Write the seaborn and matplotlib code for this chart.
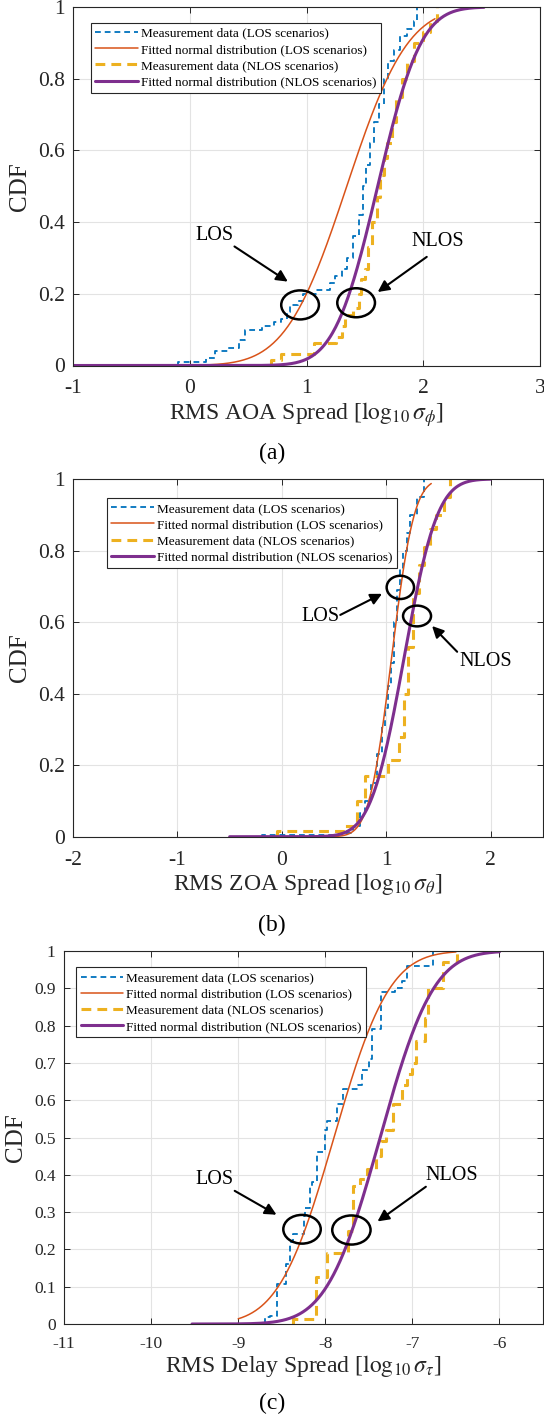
import math
import numpy as np
import pandas as pd
import matplotlib
matplotlib.use("Agg")
import matplotlib.pyplot as plt
import seaborn as sns
from matplotlib.patches import Ellipse
from matplotlib.ticker import FuncFormatter, MultipleLocator

# ---------------- data ----------------
# (a) RMS azimuth-of-arrival spread, log10(deg): empirical CDF step points
aoa_los_x = [-0.10, 0.14, 0.22, 0.33, 0.42, 0.47, 0.62, 0.72, 0.78, 0.83, 0.86, 0.93, 0.97,
             1.08, 1.20, 1.24, 1.30, 1.35, 1.40, 1.45, 1.48, 1.51, 1.54, 1.58, 1.62, 1.66,
             1.70, 1.75, 1.80, 1.86, 1.92, 1.95]
aoa_los_cdf = [0.01, 0.02, 0.04, 0.05, 0.07, 0.10, 0.11, 0.12, 0.13, 0.15, 0.17, 0.18, 0.20,
               0.21, 0.23, 0.25, 0.27, 0.30, 0.36, 0.42, 0.50, 0.56, 0.62, 0.68, 0.73, 0.80,
               0.85, 0.88, 0.92, 0.94, 0.96, 1.00]
aoa_nlos_x = [0.70, 0.78, 1.06, 1.25, 1.30, 1.33, 1.40, 1.45, 1.47, 1.50, 1.53, 1.56, 1.60,
              1.63, 1.66, 1.69, 1.73, 1.77, 1.82, 1.86, 1.92, 2.00, 2.06, 2.12]
aoa_nlos_cdf = [0.016, 0.033, 0.063, 0.08, 0.11, 0.14, 0.16, 0.20, 0.24, 0.27, 0.33, 0.40, 0.47,
                0.53, 0.58, 0.62, 0.68, 0.75, 0.80, 0.85, 0.90, 0.93, 0.96, 1.00]
aoa_los_fit = (1.345, 0.41)      # mean, std of fitted normal
aoa_los_fit_span = (-1.0, 2.1)
aoa_nlos_fit = (1.61, 0.29)
aoa_nlos_fit_span = (-1.0, 2.52)

# (b) RMS zenith-of-arrival spread, log10(deg)
zoa_los_x = [-0.19, 0.55, 0.68, 0.75, 0.80, 0.85, 0.91, 0.96, 0.99, 1.02, 1.04, 1.07, 1.10,
             1.13, 1.16, 1.20, 1.23, 1.29, 1.36]
zoa_los_cdf = [0.005, 0.01, 0.03, 0.065, 0.10, 0.15, 0.23, 0.31, 0.36, 0.42, 0.485, 0.60, 0.69,
               0.75, 0.80, 0.85, 0.90, 0.95, 1.00]
zoa_nlos_x = [-0.05, 0.60, 0.72, 0.80, 1.02, 1.12, 1.17, 1.21, 1.26, 1.31, 1.36, 1.42, 1.48,
              1.55, 1.61]
zoa_nlos_cdf = [0.015, 0.03, 0.10, 0.17, 0.215, 0.28, 0.40, 0.53, 0.68, 0.76, 0.81, 0.86, 0.90,
                0.95, 1.00]
zoa_los_fit = (1.05, 0.17)
zoa_los_fit_span = (0.5, 1.43)
zoa_nlos_fit = (1.17, 0.25)
zoa_nlos_fit_span = (-0.5, 2.0)

# (c) RMS delay spread, log10(s)
ds_los_x = [-8.69, -8.63, -8.55, -8.45, -8.41, -8.37, -8.25, -8.23, -8.17, -8.15, -8.09, -8.00,
            -7.98, -7.86, -7.80, -7.62, -7.58, -7.50, -7.46, -7.36, -7.20, -7.12, -7.06, -6.76]
ds_los_cdf = [0.018, 0.022, 0.107, 0.16, 0.22, 0.24, 0.29, 0.31, 0.37, 0.38, 0.46, 0.52,
              0.545, 0.59, 0.63, 0.64, 0.68, 0.71, 0.79, 0.89, 0.90, 0.92, 0.96, 1.00]
ds_nlos_x = [-8.37, -8.11, -7.98, -7.74, -7.68, -7.60, -7.52, -7.42, -7.36, -7.30, -7.22,
             -7.12, -7.06, -7.00, -6.96, -6.86, -6.82, -6.65, -6.49]
ds_nlos_cdf = [0.013, 0.125, 0.19, 0.25, 0.37, 0.39, 0.415, 0.45, 0.49, 0.52, 0.59, 0.64, 0.67,
               0.70, 0.76, 0.82, 0.90, 0.97, 1.00]
ds_los_fit = (-7.9, 0.50)
ds_los_fit_span = (-9.0, -6.5)
ds_nlos_fit = (-7.37, 0.48)
ds_nlos_fit_span = (-9.53, -6.0)

legend_labels = ["Measurement data (LOS scenarios)",
                 "Fitted normal distribution (LOS scenarios)",
                 "Measurement data (NLOS scenarios)",
                 "Fitted normal distribution (NLOS scenarios)"]
x_labels = [r"RMS AOA Spread [$\log_{10}\sigma_\phi$]",
            r"RMS ZOA Spread [$\log_{10}\sigma_\theta$]",
            r"RMS Delay Spread [$\log_{10}\sigma_\tau$]"]
captions = ["(a)", "(b)", "(c)"]

# ---------------- style ----------------
sns.set_theme(style="ticks")
plt.rcParams["font.family"] = ["Liberation Serif", "DejaVu Serif"]
plt.rcParams["mathtext.fontset"] = "stix"
plt.rcParams["axes.unicode_minus"] = False

INK = "#262626"
BLUE, ORANGE, YELLOW, PURPLE = "#0072BD", "#D95319", "#EDB120", "#7E2F8E"

erf = np.vectorize(math.erf)


def draw_steps(ax, xs, cdf, color, lw, dash, label):
    df = pd.DataFrame({"x": np.r_[xs[0], xs], "cdf": np.r_[0.0, cdf]})
    sns.lineplot(data=df, x="x", y="cdf", ax=ax, color=color, linewidth=lw,
                 linestyle=(0, dash), drawstyle="steps-post",
                 estimator=None, sort=False, label=label, legend=False)


def draw_fit(ax, params, span, color, lw, label):
    mu, sd = params
    x = np.linspace(span[0], span[1], 400)
    y = 0.5 * (1.0 + erf((x - mu) / (sd * math.sqrt(2.0))))
    sns.lineplot(x=x, y=y, ax=ax, color=color, linewidth=lw,
                 estimator=None, sort=False, label=label, legend=False)


def mark(ax, centre, size, text_pos, tail, head, text):
    ax.add_patch(Ellipse(centre, size[0], size[1], fill=False, lw=1.8,
                         edgecolor="black", zorder=6))
    ax.text(*text_pos, text, ha="center", va="center", fontsize=14.5, color="black", zorder=6)
    ax.annotate("", xy=head, xytext=tail,
                arrowprops=dict(arrowstyle="-|>", color="black", lw=1.5,
                                mutation_scale=17, shrinkA=0, shrinkB=0), zorder=6)


fig = plt.figure(figsize=(5.44, 14.16), dpi=100)
W, H = 544.0, 1416.0


def axes_px(left, top, right, bottom):
    return fig.add_axes([left / W, 1 - bottom / H, (right - left) / W, (bottom - top) / H])


ax_a = axes_px(73, 7, 540, 365.5)
ax_b = axes_px(73, 479, 543, 836.7)
ax_c = axes_px(64, 951, 543, 1324)

panels = [
    dict(ax=ax_a, los=(aoa_los_x, aoa_los_cdf), nlos=(aoa_nlos_x, aoa_nlos_cdf),
         lfit=(aoa_los_fit, aoa_los_fit_span), nfit=(aoa_nlos_fit, aoa_nlos_fit_span),
         xlim=(-1, 3), ystep=0.2, tick_fs=15.5, xpad=10, leg=(0.038, 0.956)),
    dict(ax=ax_b, los=(zoa_los_x, zoa_los_cdf), nlos=(zoa_nlos_x, zoa_nlos_cdf),
         lfit=(zoa_los_fit, zoa_los_fit_span), nfit=(zoa_nlos_fit, zoa_nlos_fit_span),
         xlim=(-2, 2.5), ystep=0.2, tick_fs=15.5, xpad=10, leg=(0.072, 0.947)),
    dict(ax=ax_c, los=(ds_los_x, ds_los_cdf), nlos=(ds_nlos_x, ds_nlos_cdf),
         lfit=(ds_los_fit, ds_los_fit_span), nfit=(ds_nlos_fit, ds_nlos_fit_span),
         xlim=(-11, -5.5), ystep=0.1, tick_fs=12.5, xpad=8.5, leg=(0.025, 0.956)),
]

fmt = FuncFormatter(lambda v, p: "%g" % round(v, 6))

for i, p in enumerate(panels):
    ax = p["ax"]
    draw_steps(ax, *p["los"], BLUE, 1.3, (3.2, 2.2), legend_labels[0])
    draw_fit(ax, *p["lfit"], ORANGE, 1.1, legend_labels[1])
    draw_steps(ax, *p["nlos"], YELLOW, 2.2, (3.2, 2.0), legend_labels[2])
    draw_fit(ax, *p["nfit"], PURPLE, 2.2, legend_labels[3])

    ax.set_xlim(*p["xlim"])
    ax.set_ylim(0, 1)
    ax.xaxis.set_major_locator(MultipleLocator(1))
    ax.yaxis.set_major_locator(MultipleLocator(p["ystep"]))
    ax.xaxis.set_major_formatter(fmt)
    ax.yaxis.set_major_formatter(fmt)
    ax.grid(True, color="#e3e3e3", lw=0.8)
    ax.set_axisbelow(True)
    for s in ax.spines.values():
        s.set_color(INK)
        s.set_linewidth(0.8)
    ax.tick_params(direction="in", top=True, right=True, length=4, width=0.7,
                   color=INK, labelcolor=INK, labelsize=p["tick_fs"])
    ax.tick_params(axis="x", pad=p["xpad"])
    ax.tick_params(axis="y", pad=6)
    ax.set_xlabel(x_labels[i], fontsize=17, color=INK, labelpad=1)
    ax.set_ylabel("CDF", fontsize=18, color=INK, labelpad=5)

    handles = ax.get_lines()[:4]
    leg = ax.legend(handles, legend_labels, loc="upper left", bbox_to_anchor=p["leg"],
                    borderaxespad=0, fontsize=9.5, handlelength=3.2, handletextpad=0.25,
                    borderpad=0.35, labelspacing=0.3, fancybox=False, framealpha=1,
                    edgecolor=INK)
    leg.get_frame().set_linewidth(0.8)
    for t in leg.get_texts():
        t.set_color("black")

# region markers and arrows
mark(ax_a, (0.945, 0.169), (0.323, 0.081), (0.21, 0.362), (0.383, 0.332), (0.84, 0.234), "LOS")
mark(ax_a, (1.425, 0.175), (0.323, 0.081), (2.125, 0.345), (2.03, 0.303), (1.61, 0.205), "NLOS")
mark(ax_b, (1.134, 0.697), (0.262, 0.065), (0.367, 0.615), (0.559, 0.620), (0.959, 0.679), "LOS")
mark(ax_b, (1.294, 0.617), (0.268, 0.058), (1.95, 0.49), (1.678, 0.517), (1.438, 0.589), "NLOS")
mark(ax_c, (-8.267, 0.254), (0.43, 0.077), (-9.27, 0.388), (-9.04, 0.357), (-8.56, 0.293), "LOS")
mark(ax_c, (-7.70, 0.252), (0.44, 0.078), (-6.55, 0.399), (-6.845, 0.368), (-7.40, 0.275), "NLOS")

for cap, y in zip(captions, [453, 925, 1403]):
    fig.text(0.5, 1 - y / H, cap, ha="center", va="center", fontsize=17, color="black")

fig.savefig("out.png", dpi=100)
